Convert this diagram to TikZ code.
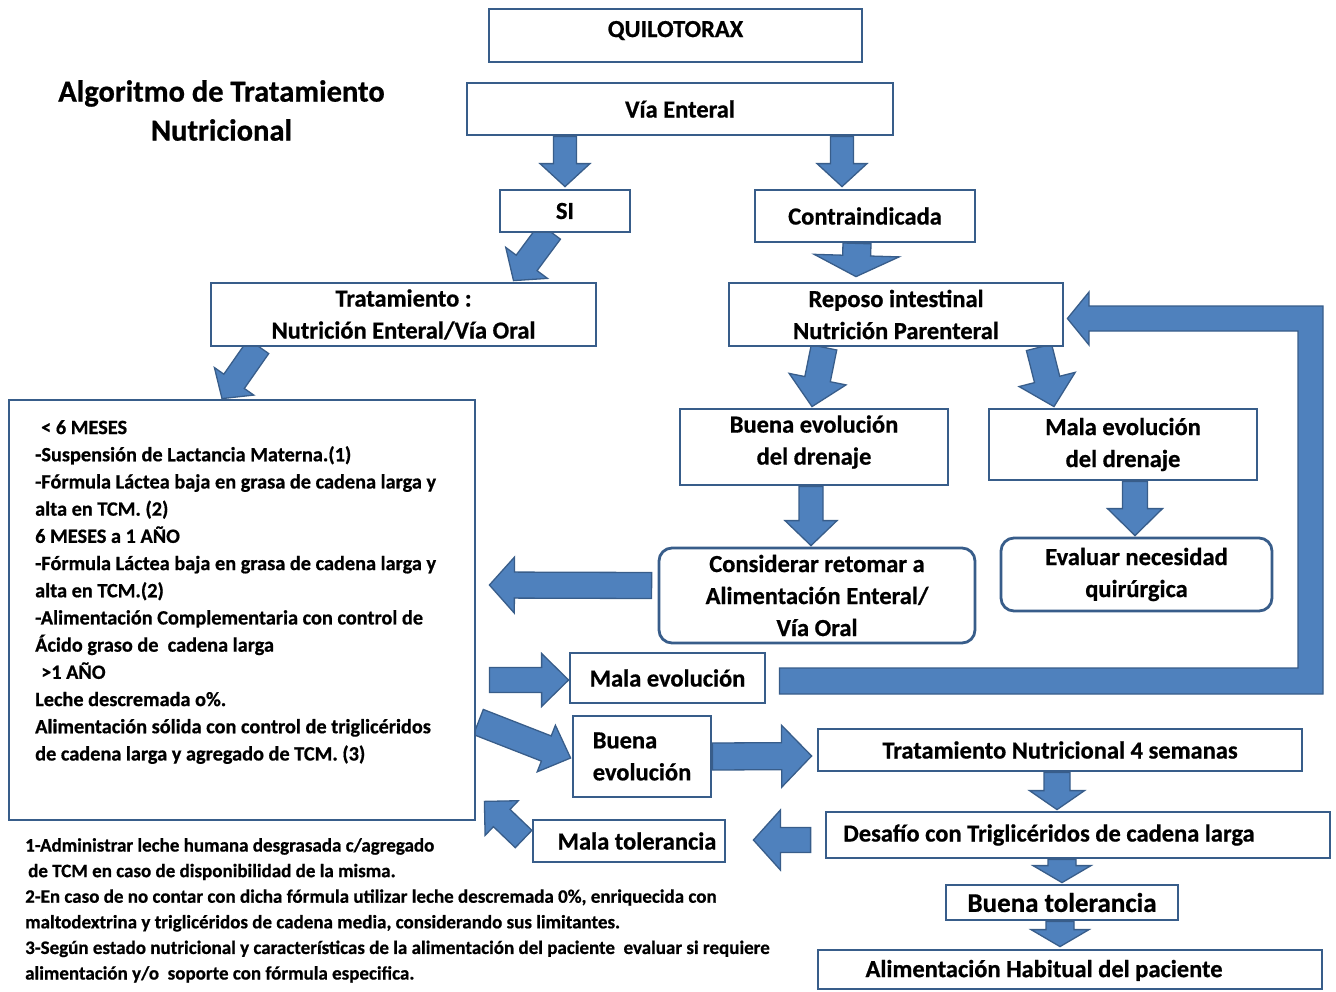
\documentclass[tikz,border=0pt]{standalone}
\usepackage{fontspec}
\setmainfont{Carlito}[BoldFeatures={FakeBold=0.7}]
\usetikzlibrary{calc,backgrounds}
\definecolor{bdr}{RGB}{56,93,138}
\definecolor{afill}{RGB}{79,129,189}
\definecolor{adraw}{RGB}{56,93,138}
\newcommand{\bxf}{\fontsize{24.5}{32}\selectfont\bfseries}
\newcommand{\lft}{\fontsize{20.3}{27.2}\selectfont\bfseries}
\newcommand{\ftn}{\fontsize{19}{25.6}\selectfont\bfseries}
\newcommand{\ttl}{\fontsize{30.5}{39}\selectfont\bfseries}
\tikzset{
  box/.style={draw=bdr, line width=2.8pt, fill=white, inner sep=0pt, align=center, font=\bxf},
  rbox/.style={box, rounded corners=13pt},
  blockarrow/.style={fill=afill, draw=adraw, line width=1.3pt, line join=miter},
  plaintext/.style={inner sep=0pt, align=left}
}
\newcommand{\barrow}[5]{%
  \path #1 coordinate (baS) #2 coordinate (baE);
  \draw[blockarrow] let \p1=(baS), \p2=(baE),
     \n1={atan2(\y2-\y1,\x2-\x1)},
     \n2={veclen(\x2-\x1,\y2-\y1)} in
     ($(baS)+({\n1+90}:{#3*0.5pt})$)
  -- ($(baS)+({\n1}:{\n2*1pt-#5*1pt})+({\n1+90}:{#3*0.5pt})$)
  -- ($(baS)+({\n1}:{\n2*1pt-#5*1pt})+({\n1+90}:{#4*0.5pt})$)
  -- (baE)
  -- ($(baS)+({\n1}:{\n2*1pt-#5*1pt})+({\n1-90}:{#4*0.5pt})$)
  -- ($(baS)+({\n1}:{\n2*1pt-#5*1pt})+({\n1-90}:{#3*0.5pt})$)
  -- ($(baS)+({\n1-90}:{#3*0.5pt})$) -- cycle;
}
\begin{document}
\begin{tikzpicture}[x=1pt,y=-1pt]
\useasboundingbox (0,0) rectangle (1336,991);

% title
\node[plaintext, align=center, font=\ttl, anchor=north] (title) at (221.5,80) {Algoritmo de Tratamiento\\Nutricional};

% boxes
\node[box, minimum width=373pt, minimum height=53pt, text depth=13pt] (quil) at (675.5,35.5) {QUILOTORAX};
\node[box, minimum width=426pt, minimum height=52pt] (via) at (680,109) {Vía Enteral};
\node[box, minimum width=130pt, minimum height=42pt] (si) at (565,211) {SI};
\node[box, minimum width=220pt, minimum height=52pt] (contra) at (865,216) {Contraindicada};
\node[box, minimum width=385pt, minimum height=63pt] (trat) at (403.5,314.5) {Tratamiento :\\Nutrición Enteral/Vía Oral};
\node[box, minimum width=334pt, minimum height=63pt] (reposo) at (896,314.5) {Reposo intestinal\\Nutrición Parenteral};
\node[box, minimum width=268pt, minimum height=76pt] (buenad) at (814,447) {Buena evolución\\del drenaje\\[-18pt]\mbox{}};
\node[box, minimum width=268pt, minimum height=71pt] (malad) at (1123,444.5) {Mala evolución\\del drenaje};
\node[rbox, minimum width=316pt, minimum height=95pt] (consid) at (817,595.5) {Considerar retomar a\\Alimentación Enteral/\\Vía Oral};
\node[rbox, minimum width=271pt, minimum height=73pt] (evaluar) at (1136.5,574.5) {Evaluar necesidad\\quirúrgica};
\node[box, minimum width=466pt, minimum height=420pt] (agebox) at (242,610) {};
\node[box, minimum width=195pt, minimum height=50pt] (malaev) at (667.5,678) {Mala evolución};
\node[box, align=left, minimum width=138pt, minimum height=81pt] (buenaev) at (642,756.5) {Buena\\evolución};
\node[box, minimum width=484pt, minimum height=42pt] (trat4) at (1060,750) {Tratamiento Nutricional 4 semanas};
\node[box, minimum width=504pt, minimum height=46pt] (desafio) at (1078,835) {\hspace*{-58pt}Desafío con Triglicéridos de cadena larga};
\node[box, minimum width=192pt, minimum height=42pt] (malatol) at (629,841) {\hspace*{16pt}Mala tolerancia};
\node[box, minimum width=232pt, minimum height=35pt, font=\fontsize{27}{32}\selectfont\bfseries] (buenatol) at (1062,902.5) {Buena tolerancia};
\node[box, minimum width=504pt, minimum height=39pt, text depth=2pt] (alim) at (1070,969.5) {\hspace*{-52pt}Alimentación Habitual del paciente};

% text in the age box
\node[plaintext, font=\lft, anchor=north west] (agetext) at (35,420) {%
\hspace*{6pt}< 6 MESES\\
-Suspensión de Lactancia Materna.(1)\\
-Fórmula Láctea baja en grasa de cadena larga y\\
alta en TCM. (2)\\
6 MESES a 1 AÑO\\
-Fórmula Láctea baja en grasa de cadena larga y\\
alta en TCM.(2)\\
-Alimentación Complementaria con control de\\
Ácido graso de\ \ cadena larga\\
\hspace*{6pt}>1 AÑO\\
Leche descremada o\%.\\
Alimentación sólida con control de triglicéridos\\
de cadena larga y agregado de TCM. (3)};

% footnotes
\node[plaintext, font=\ftn, anchor=north west] (notes) at (25,838) {%
1-Administrar leche humana desgrasada c/agregado\\
\hspace*{3pt}de TCM en caso de disponibilidad de la misma.\\
2-En caso de no contar con dicha fórmula utilizar leche descremada 0\%, enriquecida con\\
maltodextrina y triglicéridos de cadena media, considerando sus limitantes.\\
3-Según estado nutricional y características de la alimentación del paciente\ \ evaluar si requiere\\
alimentación y/o\ \ soporte con fórmula especifica.};

\begin{pgfonlayer}{background}
\barrow{($(via.south)+(-115,0)$)}{($(si.north)+(0,-2)$)}{23}{50}{23}
\barrow{($(via.south)+(162,0)$)}{($(contra.north)+(-23,-2)$)}{23}{50}{23}
\barrow{($(si.south)+(-15,-2)$)}{($(trat.north)+(110,-1)$)}{26}{52}{22}
\barrow{($(trat.south)+(-145,-1)$)}{($(agebox.north)+(-20,0)$)}{25}{48}{21}
\barrow{($(contra.south)+(-8,0)$)}{($(reposo.north)+(-40,-5)$)}{28}{85}{21}
\barrow{($(reposo.south)+(-72,0)$)}{($(buenad.north)+(-2,-1)$)}{26}{58}{28}
\barrow{($(reposo.south)+(143,0)$)}{($(malad.north)+(-69,-1)$)}{26}{58}{28}
\barrow{($(buenad.south)+(-3,0)$)}{($(consid.north)+(-6,-1)$)}{24}{52}{25}
\barrow{($(malad.south)+(12,0)$)}{($(evaluar.north)+(-1.5,-1)$)}{25}{55}{27}
\barrow{($(consid.west)+(-6,-10)$)}{($(agebox.east)+(13,-25)$)}{26}{56}{25}
\barrow{($(agebox.east)+(13,70)$)}{($(malaev.west)+(0,2)$)}{25}{53}{27}
\barrow{($(agebox.east)+(2,112)$)}{($(buenaev.west)+(-1,1.5)$)}{27}{50}{26}
\barrow{(buenaev.east)}{($(trat4.west)+(-5,6)$)}{27}{62}{30}
\barrow{($(trat4.south)+(-3,0)$)}{($(desafio.north)+(-21,-1)$)}{26}{55}{19}
\barrow{($(desafio.west)+(-14,5)$)}{($(malatol.east)+(27,-1)$)}{25}{60}{27}
\barrow{($(malatol.west)+(-8,-2)$)}{($(agebox.south east)+(8,-20)$)}{24}{48}{24}
\barrow{($(desafio.south)+(-16,0)$)}{($(buenatol.north)+(0,-1)$)}{28}{58}{17}
\barrow{($(buenatol.south)+(-2,0)$)}{($(alim.north)+(-10,-2)$)}{28}{58}{17}
% loop back from "Mala evolución" to "Reposo intestinal"
\coordinate (lpS) at ($(malaev.east)+(13,0)$);
\coordinate (lpT) at ($(reposo.east)+(3,4)$);
\draw[blockarrow] ($(lpS)+(0,-10)$) -- (1298,668) -- (1298,331) -- (1089,331) -- (1089,345)
  -- (lpT) -- (1089,292) -- (1089,306) -- (1323,306) -- (1323,694) -- ($(lpS)+(0,16)$) -- cycle;
\end{pgfonlayer}
\end{tikzpicture}
\end{document}
